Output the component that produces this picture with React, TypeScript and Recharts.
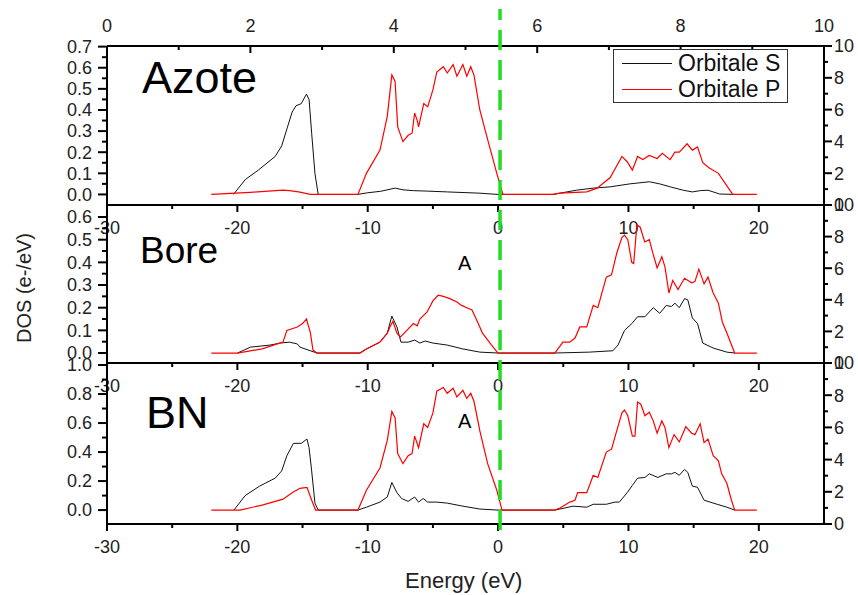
import React from 'react'
import { LineChart, Line, XAxis, YAxis, ReferenceLine, Legend } from 'recharts'

const W = 858
const H = 595
const FONT = '"Liberation Sans", Arial, sans-serif'

// energy (eV) / DOS pairs
const azoteS: [number, number][] = [
  [-20.3, 0], [-19.4, 0.07], [-18.4, 0.115], [-17.1, 0.18], [-16.6, 0.23], [-16.2, 0.31], [-15.8, 0.39],
  [-15.5, 0.42], [-15.1, 0.43], [-14.7, 0.475], [-14.5, 0.45], [-14.3, 0.29], [-14.05, 0.1], [-13.8, 0],
  [-10.8, 0], [-10, 0.008], [-9, 0.015], [-7.9, 0.03], [-7.3, 0.022], [-6.5, 0.018], [-5.5, 0.016],
  [-3.9, 0.012], [-1.4, 0.006], [0, 0], [4.2, 0], [4.74, 0.006], [6.0, 0.02], [7.3, 0.03], [8.6, 0.036],
  [10.1, 0.05], [11.6, 0.06], [12.4, 0.05], [13.2, 0.036], [14.2, 0.02], [14.9, 0.012], [15.5, 0.018],
  [16.1, 0.02], [17.0, 0.002], [18.2, 0],
]
const azoteP: [number, number][] = [
  [-22, 0], [-19, 0.01], [-16.5, 0.02], [-16, 0.018], [-15.3, 0.012], [-14.4, 0], [-10.75, 0],
  [-10.1, 0.1], [-9.06, 0.21], [-8.5, 0.37], [-8.15, 0.566], [-7.9, 0.535], [-7.7, 0.32], [-7.3, 0.25],
  [-6.9, 0.28], [-6.6, 0.29], [-6.4, 0.385], [-6.2, 0.35], [-6.1, 0.32], [-5.7, 0.43], [-5.4, 0.415],
  [-5.0, 0.495], [-4.7, 0.58], [-4.2, 0.605], [-3.9, 0.575], [-3.45, 0.615], [-3.16, 0.56], [-2.7, 0.615],
  [-2.4, 0.56], [-2.1, 0.605], [-1.85, 0.565], [-1.4, 0.4], [-0.8, 0.26], [-0.1, 0.1], [0.37, 0],
  [4.2, 0], [4.74, 0.006], [6.8, 0.012], [7.6, 0.03], [8.6, 0.08], [9.5, 0.18], [9.9, 0.155],
  [10.3, 0.115], [10.7, 0.18], [11.1, 0.165], [11.6, 0.185], [12.2, 0.17], [12.6, 0.195], [13.2, 0.165],
  [13.56, 0.2], [13.9, 0.2], [14.5, 0.24], [14.9, 0.21], [15.3, 0.225], [15.7, 0.15], [16.2, 0.125],
  [16.9, 0.1], [17.5, 0.045], [18.0, 0], [19.85, 0],
]

const boreS: [number, number][] = [
  [-20, 0], [-19.8, 0.005], [-19, 0.026], [-17.5, 0.035], [-16.7, 0.044], [-16, 0.048], [-15.4, 0.04],
  [-15.2, 0.026], [-13.9, 0], [-10.6, 0], [-10.1, 0.018], [-9.06, 0.048], [-8.5, 0.088], [-8.15, 0.163],
  [-7.76, 0.115], [-7.45, 0.048], [-6.9, 0.048], [-6.4, 0.057], [-6.0, 0.044], [-5.6, 0.053], [-5.0, 0.044],
  [-3.9, 0.035], [-2.7, 0.018], [-1.4, 0.004], [0, 0], [4.35, 0], [7.0, 0.004], [8.8, 0.01], [9.2, 0.035],
  [9.7, 0.1], [10.26, 0.13], [10.7, 0.16], [11.26, 0.16], [11.9, 0.2], [12.4, 0.175], [12.9, 0.21],
  [13.3, 0.205], [13.56, 0.22], [13.9, 0.2], [14.3, 0.24], [14.55, 0.235], [14.9, 0.155], [15.3, 0.13],
  [15.7, 0.044], [16.5, 0.022], [17.55, 0.004], [18.15, 0],
]
const boreP: [number, number][] = [
  [-22, 0], [-20, 0], [-18.1, 0.018], [-16.5, 0.048], [-16.2, 0.1], [-15.4, 0.115], [-15.0, 0.13],
  [-14.7, 0.15], [-14.4, 0.09], [-14.2, 0.013], [-13.9, 0], [-10.6, 0], [-10.1, 0.018], [-9.06, 0.048],
  [-8.5, 0.088], [-8.3, 0.115], [-8.07, 0.14], [-7.76, 0.088], [-7.5, 0.07], [-7.0, 0.1], [-6.5, 0.13],
  [-6.2, 0.12], [-6.0, 0.15], [-5.46, 0.18], [-5.0, 0.23], [-4.6, 0.255], [-4.2, 0.25], [-3.7, 0.24],
  [-3.16, 0.225], [-2.8, 0.21], [-2.4, 0.2], [-2.0, 0.19], [-1.6, 0.14], [-1.2, 0.088], [-0.5, 0.035],
  [0, 0], [4.35, 0], [4.97, 0.048], [5.5, 0.048], [5.9, 0.066], [6.27, 0.115], [6.8, 0.115], [7.3, 0.21],
  [7.65, 0.2], [8.3, 0.335], [8.7, 0.345], [9.1, 0.44], [9.5, 0.51], [9.7, 0.52], [9.95, 0.5], [10.25, 0.4],
  [10.4, 0.395], [10.65, 0.565], [10.9, 0.555], [11.25, 0.49], [11.6, 0.5], [11.85, 0.445], [12.2, 0.375],
  [12.56, 0.425], [12.8, 0.38], [13.1, 0.265], [13.4, 0.32], [13.8, 0.28], [14.3, 0.33], [14.85, 0.31],
  [15.1, 0.315], [15.4, 0.37], [15.8, 0.305], [16.1, 0.335], [16.5, 0.265], [16.9, 0.22], [17.2, 0.137],
  [17.55, 0.088], [18.15, 0], [19.85, 0],
]

const bnS: [number, number][] = [
  [-20.26, 0], [-19.4, 0.1], [-18.3, 0.165], [-17.1, 0.22], [-16.6, 0.27], [-16.2, 0.375], [-15.7, 0.46],
  [-15.1, 0.46], [-14.66, 0.49], [-14.5, 0.43], [-14.3, 0.27], [-14.05, 0.048], [-13.8, 0], [-10.75, 0],
  [-10.1, 0.02], [-9.06, 0.055], [-8.5, 0.09], [-8.15, 0.19], [-7.76, 0.12], [-7.4, 0.08], [-6.9, 0.06],
  [-6.4, 0.09], [-6.1, 0.055], [-5.75, 0.08], [-5.4, 0.055], [-4.7, 0.055], [-3.9, 0.048], [-2.7, 0.027],
  [-1.4, 0.007], [0, 0], [4.35, 0], [4.74, 0.007], [5.75, 0.027], [6.8, 0.02], [7.3, 0.04], [8.3, 0.04],
  [8.96, 0.055], [9.3, 0.055], [9.9, 0.12], [10.3, 0.17], [10.7, 0.22], [11.26, 0.225], [11.6, 0.25],
  [12.25, 0.225], [12.9, 0.25], [13.3, 0.25], [13.56, 0.26], [13.9, 0.24], [14.3, 0.28], [14.55, 0.26],
  [14.9, 0.165], [15.3, 0.157], [15.8, 0.068], [16.8, 0.04], [17.55, 0.02], [18.15, 0],
]
const bnP: [number, number][] = [
  [-22, 0], [-19.8, 0], [-18.1, 0.034], [-16.5, 0.075], [-15.8, 0.12], [-15.2, 0.15], [-14.66, 0.157],
  [-14.3, 0.068], [-14.0, 0], [-10.75, 0], [-10.1, 0.137], [-9.06, 0.29], [-8.5, 0.48], [-8.15, 0.68],
  [-7.9, 0.635], [-7.7, 0.39], [-7.3, 0.32], [-6.9, 0.375], [-6.6, 0.39], [-6.4, 0.51], [-6.1, 0.43],
  [-5.7, 0.595], [-5.4, 0.57], [-5.0, 0.67], [-4.7, 0.82], [-4.2, 0.845], [-3.9, 0.805], [-3.45, 0.84],
  [-3.16, 0.78], [-2.7, 0.825], [-2.4, 0.77], [-2.1, 0.805], [-1.85, 0.75], [-1.4, 0.546], [-0.8, 0.32],
  [-0.1, 0.137], [0.3, 0], [4.35, 0], [4.74, 0.014], [5.1, 0.034], [5.5, 0.055], [5.9, 0.068], [6.1, 0.12],
  [6.8, 0.12], [7.3, 0.24], [7.65, 0.225], [8.3, 0.4], [8.7, 0.42], [9.1, 0.546], [9.5, 0.67], [9.7, 0.69],
  [9.95, 0.65], [10.3, 0.51], [10.5, 0.51], [10.7, 0.745], [10.95, 0.73], [11.26, 0.65], [11.6, 0.675],
  [11.9, 0.615], [12.2, 0.53], [12.56, 0.615], [12.8, 0.57], [13.1, 0.43], [13.5, 0.52], [13.9, 0.47],
  [14.4, 0.575], [14.85, 0.53], [15.1, 0.52], [15.5, 0.595], [15.8, 0.465], [16.1, 0.49], [16.5, 0.375],
  [16.9, 0.34], [17.15, 0.25], [17.55, 0.185], [17.9, 0.068], [18.15, 0], [19.85, 0],
]

// axis ticks
const energyTicks = [-30, -25, -20, -15, -10, -5, 0, 5, 10, 15, 20]
const topTicks = [0, 1, 2, 3, 4, 5, 6, 7, 8, 9, 10]
const rightTicks = [0, 1, 2, 3, 4, 5, 6, 7, 8, 9, 10]
const azoteTicks = [0, 0.05, 0.1, 0.15, 0.2, 0.25, 0.3, 0.35, 0.4, 0.45, 0.5, 0.55, 0.6, 0.65, 0.7]
const boreTicks = [0, 0.05, 0.1, 0.15, 0.2, 0.25, 0.3, 0.35, 0.4, 0.45, 0.5, 0.55, 0.6]
const bnTicks = [0, 0.1, 0.2, 0.3, 0.4, 0.5, 0.6, 0.7, 0.8, 0.9, 1.0]

const toRows = (arr: [number, number][]) => arr.map(([e, v]) => ({ e, v }))

const lineStyle = { stroke: '#000', strokeWidth: 2 }
const TICK_FONT = 18
const TICK_FILL = '#222'

const isStep = (v: number, step: number) => Math.abs(v / step - Math.round(v / step)) < 1e-6

type Side = 'left' | 'right' | 'bottom' | 'top'

// tick with long major / short minor marks; label only on majors
function makeTick(side: Side, size: number, margin: number, step: number, fmt: (v: number) => string) {
  return (props: any) => {
    const { x, y, payload } = props
    const v = payload.value as number
    const major = isStep(v, step)
    const len = major ? size : Math.round(size * 0.55)
    const label = major ? fmt(v) : ''
    const txt = { fontSize: TICK_FONT, fill: TICK_FILL, fontFamily: FONT }
    if (side === 'left') {
      const ax = x + size + margin
      return (
        <g>
          <line x1={ax - len} x2={ax} y1={y} y2={y} stroke="#000" strokeWidth={2} />
          <text x={x} y={y} dy="0.355em" textAnchor="end" {...txt}>{label}</text>
        </g>
      )
    }
    if (side === 'right') {
      const ax = x - size - margin
      return (
        <g>
          <line x1={ax} x2={ax + len} y1={y} y2={y} stroke="#000" strokeWidth={2} />
          <text x={x} y={y} dy="0.355em" textAnchor="start" {...txt}>{label}</text>
        </g>
      )
    }
    if (side === 'bottom') {
      const ay = y - size - margin
      return (
        <g>
          <line x1={x} x2={x} y1={ay} y2={ay + len} stroke="#000" strokeWidth={2} />
          <text x={x} y={y} dy="0.71em" textAnchor="middle" {...txt}>{label}</text>
        </g>
      )
    }
    // top axis: ticks point inward (down), labels above
    const ay = y + margin - size
    return (
      <g>
        <line x1={x} x2={x} y1={ay} y2={ay + len} stroke="#000" strokeWidth={2} />
        <text x={x} y={y} textAnchor="middle" {...txt}>{label}</text>
      </g>
    )
  }
}

const bottomTick = makeTick('bottom', 7, 9, 10, (v) => String(v))
const topTick = makeTick('top', 7, 21, 2, (v) => String(v))
const rightTick = makeTick('right', 8, 2, 2, (v) => String(v))

interface PanelProps {
  top: number
  bottom: number
  s: [number, number][]
  p: [number, number][]
  yDomain: [number, number]
  yTicks: number[]
  labelStep: number
  first?: boolean
}

function Panel({ top, bottom, s, p, yDomain, yTicks, labelStep, first }: PanelProps) {
  const topAxisH = first ? 30 : 0
  const sRows = toRows(s)
  const pRows = toRows(p)
  const leftTick = makeTick('left', 9, 6, labelStep, (v) => v.toFixed(1))
  return (
    <div style={{ position: 'absolute', left: 0, top: 0 }}>
      <LineChart
        width={W}
        height={H}
        data={pRows}
        margin={{ top: top - topAxisH, bottom: H - bottom - 30, left: 0, right: 0 }}
      >
        <XAxis
          dataKey="e"
          type="number"
          domain={[-30, 25]}
          ticks={energyTicks}
          interval={0}
          height={30}
          tickSize={7}
          tickMargin={9}
          tick={bottomTick}
          axisLine={lineStyle}
          tickLine={false}
          allowDataOverflow
        />
        {first && (
          <XAxis
            xAxisId="top"
            dataKey="e"
            orientation="top"
            type="number"
            domain={[0, 10]}
            ticks={topTicks}
            interval={0}
            height={30}
            tickSize={7}
            tickMargin={7}
            tick={topTick}
            axisLine={lineStyle}
            tickLine={false}
            allowDataOverflow
          />
        )}
        <YAxis
          yAxisId="l"
          type="number"
          domain={yDomain}
          ticks={yTicks}
          interval={0}
          width={107}
          tickSize={9}
          tickMargin={6}
          tick={leftTick}
          axisLine={lineStyle}
          tickLine={false}
          allowDataOverflow
        />
        <YAxis
          yAxisId="r"
          orientation="right"
          type="number"
          domain={[0, 10]}
          ticks={rightTicks}
          interval={0}
          width={34}
          tickSize={8}
          tickMargin={2}
          tick={rightTick}
          axisLine={lineStyle}
          tickLine={false}
          allowDataOverflow
        />
        <Line
          yAxisId="l"
          data={sRows}
          dataKey="v"
          name="Orbitale S"
          type="linear"
          stroke="#111"
          strokeWidth={1}
          dot={false}
          isAnimationActive={false}
        />
        <Line
          yAxisId="l"
          data={pRows}
          dataKey="v"
          name="Orbitale P"
          type="linear"
          stroke="#ff0000"
          strokeWidth={1.2}
          dot={false}
          isAnimationActive={false}
        />
        {first && (
          <Legend
            layout="horizontal"
            align="center"
            verticalAlign="middle"
            wrapperStyle={{ position: 'absolute', left: 613, top: 49, width: 'auto' }}
            content={(props: any) => {
              const entries = [...(props.payload || [])].sort((a: any, b: any) =>
                String(b.value).localeCompare(String(a.value)),
              )
              return (
                <div
                  style={{
                    width: 173,
                    height: 52,
                    border: '1.5px solid #333',
                    background: '#fff',
                    fontFamily: FONT,
                    fontSize: 23,
                    color: '#111',
                  }}
                >
                  {entries.map((entry: any) => (
                    <div key={entry.value} style={{ display: 'flex', alignItems: 'center', height: 26 }}>
                      <span
                        style={{
                          display: 'inline-block',
                          width: 50,
                          height: 0,
                          borderTop: `1.2px solid ${entry.color}`,
                          marginLeft: 8,
                          marginRight: 6,
                        }}
                      />
                      <span style={{ lineHeight: 1 }}>{entry.value}</span>
                    </div>
                  ))}
                </div>
              )
            }}
          />
        )}
      </LineChart>
    </div>
  )
}

const textBase: React.CSSProperties = {
  position: 'absolute',
  fontFamily: FONT,
  lineHeight: 1,
  whiteSpace: 'nowrap',
  color: '#000',
}

export default function App() {
  return (
    <div style={{ position: 'absolute', left: 0, top: 0, width: W, height: H, background: '#fff' }}>
      <Panel top={46} bottom={205} s={azoteS} p={azoteP} yDomain={[-0.05, 0.703]} yTicks={azoteTicks} labelStep={0.1} first />
      <Panel top={205} bottom={363} s={boreS} p={boreP} yDomain={[-0.044, 0.653]} yTicks={boreTicks} labelStep={0.1} />
      <Panel top={363} bottom={524} s={bnS} p={bnP} yDomain={[-0.096, 1.014]} yTicks={bnTicks} labelStep={0.2} />

      <div style={{ ...textBase, left: 142, top: 55, fontSize: 45 }}>Azote</div>
      <div style={{ ...textBase, left: 140, top: 232, fontSize: 37 }}>Bore</div>
      <div style={{ ...textBase, left: 146, top: 390, fontSize: 45 }}>BN</div>
      <div style={{ ...textBase, left: 458, top: 253, fontSize: 20 }}>A</div>
      <div style={{ ...textBase, left: 458, top: 411, fontSize: 20 }}>A</div>
      <div
        style={{
          ...textBase,
          left: 24,
          top: 288,
          fontSize: 20,
          color: '#222',
          transform: 'translate(-50%, -50%) rotate(-90deg)',
        }}
      >
        DOS (e-/eV)
      </div>
      <div style={{ ...textBase, left: 405, top: 570, fontSize: 22, color: '#222' }}>Energy (eV)</div>

      {/* Fermi level marker */}
      <div style={{ position: 'absolute', left: 0, top: 0 }}>
        <LineChart
          width={W}
          height={H}
          data={toRows(bnP)}
          margin={{ top: 9, bottom: 65, left: 107, right: 34 }}
        >
          <XAxis dataKey="e" type="number" domain={[-30, 25]} hide allowDataOverflow />
          <YAxis type="number" domain={[0, 1]} hide allowDataOverflow />
          <ReferenceLine x={0.15} stroke="#22dd22" strokeWidth={3.5} strokeDasharray="20 10" />
        </LineChart>
      </div>
    </div>
  )
}
